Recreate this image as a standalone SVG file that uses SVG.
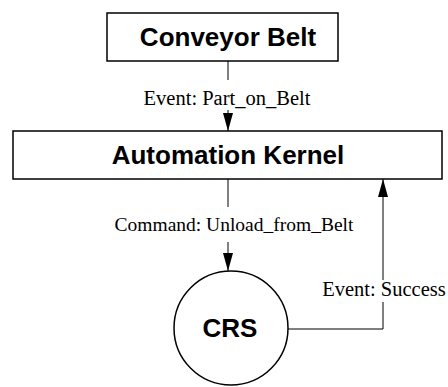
<svg xmlns="http://www.w3.org/2000/svg" width="448" height="387" viewBox="0 0 448 387">
  <defs>
    <!-- filled triangular arrowhead, 18 long by 10 wide -->
    <marker id="arrow" viewBox="0 0 18 10" refX="18" refY="5" markerWidth="18" markerHeight="10" markerUnits="userSpaceOnUse" orient="auto">
      <path d="M0,0 L18,5 L0,10 Z" fill="#000"/>
    </marker>
    <style>
      .node { fill: #fff; stroke: #000; stroke-width: 1.5; }
      .title { font-family: "Liberation Sans", Arial, sans-serif; font-weight: bold; font-size: 26px; fill: #000; text-anchor: middle; }
      .edge { fill: none; stroke: #000; stroke-width: 1; }
      .label { font-family: "Liberation Serif", "Times New Roman", serif; font-size: 20px; fill: #000; text-anchor: middle; }
    </style>
  </defs>
  <rect width="448" height="387" fill="#fff"/>

  <g id="conveyor-belt">
    <rect class="node" x="107" y="13" width="231" height="48"/>
    <text class="title" x="228" y="46">Conveyor Belt</text>
  </g>

  <g id="automation-kernel">
    <rect class="node" x="13" y="131" width="429" height="48"/>
    <text class="title" x="228" y="164">Automation Kernel</text>
  </g>

  <g id="crs">
    <circle class="node" cx="231" cy="328" r="57"/>
    <text class="title" x="230" y="337">CRS</text>
  </g>

  <g id="connectors">
    <!-- Conveyor Belt to Automation Kernel -->
    <line class="edge" x1="228" y1="61" x2="228" y2="80"/>
    <line class="edge" x1="228" y1="110" x2="228" y2="131" marker-end="url(#arrow)"/>
    <text class="label" x="227" y="105" style="font-size:20.5px">Event: Part_on_Belt</text>

    <!-- Automation Kernel to CRS -->
    <line class="edge" x1="228" y1="179" x2="228" y2="207"/>
    <line class="edge" x1="228" y1="242" x2="228" y2="271" marker-end="url(#arrow)"/>
    <text class="label" x="234" y="231" style="font-size:19.5px">Command: Unload_from_Belt</text>

    <!-- CRS back to Automation Kernel -->
    <polyline class="edge" points="288,329 383,329 383,302"/>
    <line class="edge" x1="383" y1="280" x2="383" y2="179" marker-end="url(#arrow)"/>
    <text class="label" x="384" y="296" style="font-size:20.5px">Event: Success</text>
  </g>
</svg>
